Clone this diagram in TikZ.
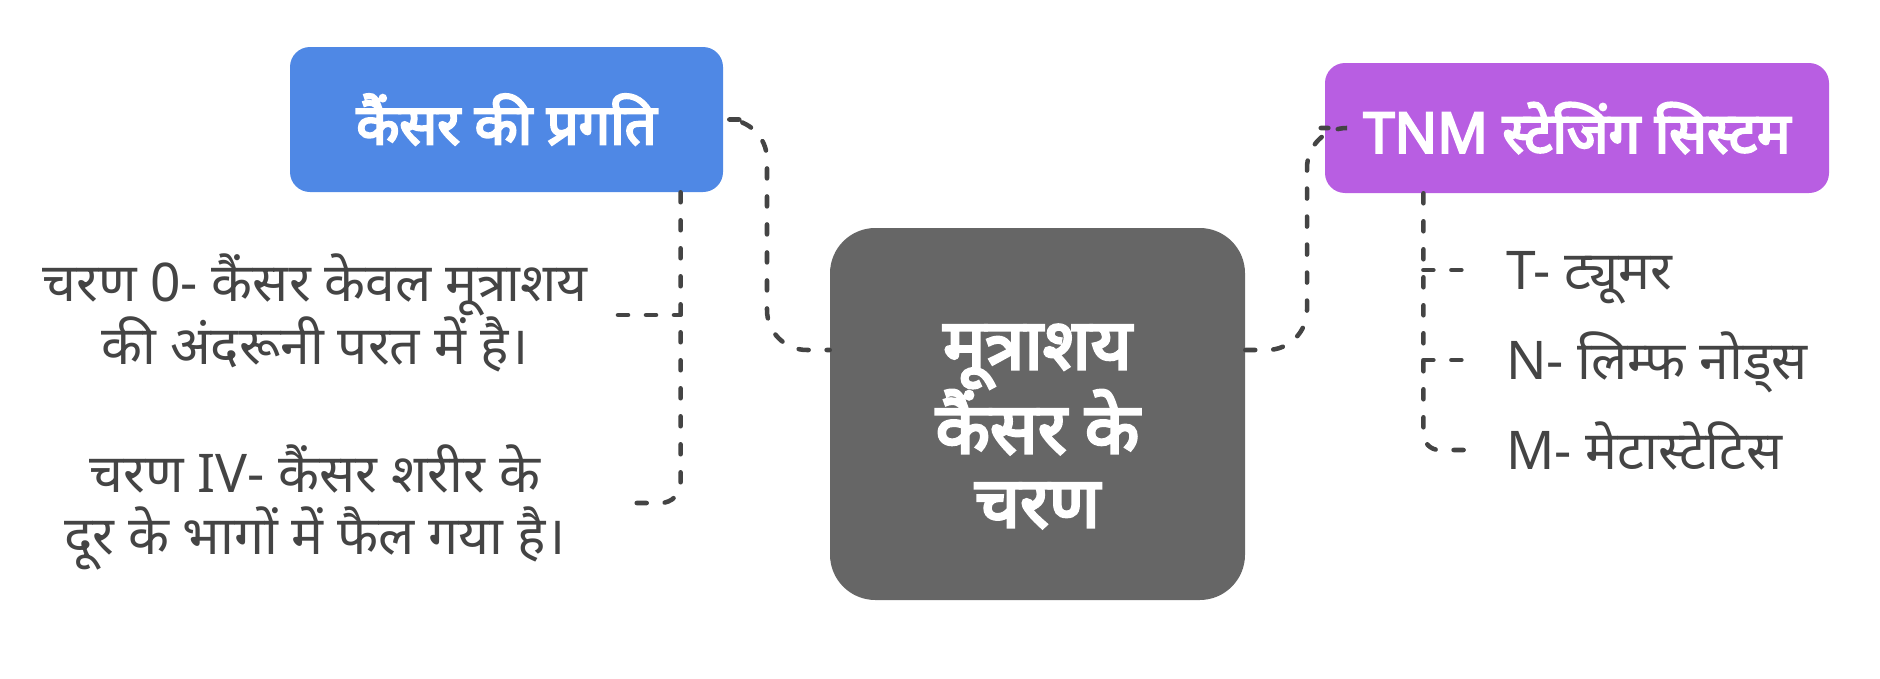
\documentclass[tikz,border=0pt]{standalone}
\usepackage{fontspec}
\setmainfont[Script=Devanagari, BoldFont={Noto Sans}, BoldFeatures={FakeBold=4}]{Noto Sans}
\usetikzlibrary{calc}
\definecolor{boxblue}{HTML}{4F88E5}
\definecolor{boxpurple}{HTML}{B85EE2}
\definecolor{boxgray}{HTML}{666666}
\definecolor{linkgray}{HTML}{444444}
\tikzset{
  link/.style={draw=linkgray, line width=3.4pt, line cap=round, dash pattern=on 7.5pt off 13.5pt},
  title/.style={text=white, font=\bfseries\fontsize{42}{48}\selectfont, rounded corners=15pt, align=center},
  note/.style={text=linkgray, font=\fontsize{40}{43.5}\selectfont, align=center},
  item/.style={text=linkgray, font=\fontsize{40}{43.5}\selectfont, anchor=west, inner sep=0pt, text height=28.6pt, text depth=0pt}
}
\begin{document}
\begin{tikzpicture}[x=0.75pt, y=-0.75pt]
    \useasboundingbox (0,0) rectangle (1880,678);
    \node [title, fill=boxgray, minimum width=311.25pt, minimum height=279pt, rounded corners=34pt, font=\bfseries\fontsize{53}{55.5}\selectfont] (stages) at (1037.5,414) {\rule{0pt}{52pt}मूत्राशय\\कैंसर के\\चरण};
    \node [title, fill=boxblue, minimum width=324.75pt, minimum height=108.75pt] (progress) at (506.5,119.5) {कैंसर की प्रगति};
    \node [title, fill=boxpurple, minimum width=378pt, minimum height=97.5pt] (tnm) at (1577,128) {TNM स्टेजिंग सिस्टम};
    \node [note] (stage0) at (315,313) {चरण 0- कैंसर केवल मूत्राशय\\की अंदरूनी परत में है।};
    \node [note] (stage4) at (315,507) {चरण IV- कैंसर शरीर के\\[3pt]दूर के भागों में फैल गया है।};
    \node [item] (tumor) at (1506,270) {T- ट्यूमर};
    \node [item] (lymph) at (1506,360) {N- लिम्फ नोड्स};
    \node [item] (meta) at (1506,450) {M- मेटास्टेटिस};
    \coordinate (ltop) at ([xshift=-32pt]progress.south east);
    \coordinate (rtop) at ([xshift=74pt]tnm.south west);
    \coordinate (s0end) at (618,315);
    \coordinate (s4end) at (633,503);
    \draw [link, rounded corners=30pt] ([xshift=12pt]progress.east) -| (767,350) -- ([yshift=48pt]stages.west);
    \draw [link, rounded corners=30pt] ([yshift=48pt]stages.east) -| (1307,128) -- ([xshift=-3pt]tnm.west);
    \draw [link, rounded corners=15pt] (ltop) |- (s4end);
    \draw [link] (s0end) -- (ltop |- s0end);
    \draw [link, rounded corners=12pt] (rtop) |- ([xshift=-31pt]meta.west);
    \draw [link] (rtop |- tumor.west) -- ([xshift=-27pt]tumor.west);
    \draw [link] (rtop |- lymph.west) -- ([xshift=-27pt]lymph.west);
\end{tikzpicture}
\end{document}
